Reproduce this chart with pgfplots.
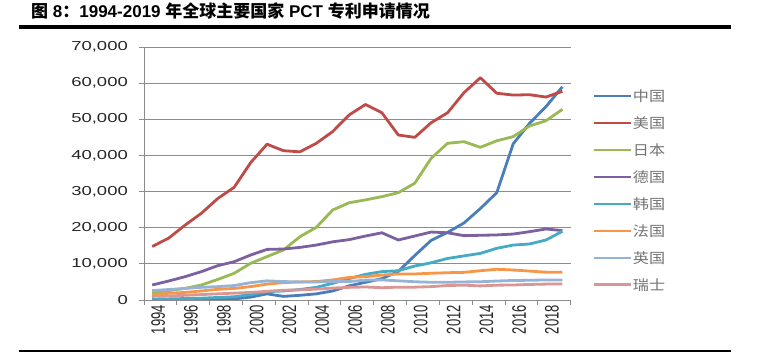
\documentclass[border=0pt]{standalone}
\usepackage{fontspec}
\setmainfont{Liberation Sans}
\newfontfamily\cjk{Noto Sans CJK SC}
\usepackage{pgfplots}
\usepackage{pgfplotstable}
\pgfplotsset{compat=1.18}
\definecolor{cCN}{HTML}{4A7EBB}
\definecolor{cUS}{HTML}{BE4B48}
\definecolor{cJP}{HTML}{98B954}
\definecolor{cDE}{HTML}{7D60A0}
\definecolor{cKR}{HTML}{46AAC5}
\definecolor{cFR}{HTML}{F79646}
\definecolor{cUK}{HTML}{95B3D7}
\definecolor{cCH}{HTML}{D99694}
\definecolor{gridc}{HTML}{8C8C8C}
\pgfplotstableread{
x CN US JP DE KR FR UK CH
0 100 14800 2000 4150 200 1500 2600 1000
1 100 17100 2600 5250 300 1850 2900 1100
2 150 20700 3200 6450 400 2100 3200 1300
3 200 24000 4150 7850 500 2500 3500 1500
4 300 28100 5700 9500 700 2950 3700 1700
5 300 31200 7400 10600 900 3200 4000 1900
6 800 38000 10150 12450 1500 3700 4800 2100
7 1700 43100 12000 14000 2300 4400 5300 2400
8 1000 41300 13850 14100 2500 4800 5100 2700
9 1300 41000 17500 14550 2900 5000 5000 2800
10 1700 43350 20100 15200 3500 5100 5000 3000
11 2500 46600 24900 16100 4600 5550 5100 3300
12 3900 51200 26900 16700 5900 6250 5100 3500
13 4900 54100 27700 17700 7100 6450 5500 3600
14 5900 51800 28600 18600 7850 6900 5550 3400
15 7900 45650 29700 16600 8100 7200 5300 3550
16 12300 45000 32300 17700 9400 7200 5050 3550
17 16500 49050 39200 18800 10300 7400 4900 3700
18 18700 51800 43350 18600 11500 7550 4900 4000
19 21300 57350 43800 17800 12200 7650 5000 4100
20 25300 61500 42250 17900 12900 8100 5050 3900
21 29700 57200 44050 18000 14300 8500 5250 4100
22 43200 56700 45200 18250 15200 8300 5400 4150
23 48900 56800 48150 18900 15500 8000 5450 4300
24 53500 56150 49600 19650 16600 7700 5550 4400
25 59000 57750 52750 19200 19000 7650 5550 4400
}\data
\begin{document}
\begin{tikzpicture}
\useasboundingbox (0pt,0pt) rectangle (757pt,352pt);
\node[anchor=base west, inner sep=0pt] at (31pt,334.5pt) {\fontsize{17}{19}\selectfont\bfseries{\cjk 图} 8{\cjk ：}1994-2019 {\cjk 年全球主要国家} PCT {\cjk 专利申请情况}};
\draw[line width=3.3pt] (19pt,325pt) -- (731pt,325pt);
\draw[line width=2pt] (19pt,1pt) -- (731pt,1pt);
\begin{axis}[
  at={(144pt,52pt)}, anchor=south west,
  scale only axis, width=426.6pt, height=253pt,
  xmin=-0.5, xmax=25.5, ymin=0, ymax=70000,
  axis x line*=bottom, axis y line*=left,
  axis line style={draw=gridc, line width=0.8pt},
  ytick={0,10000,...,70000},
  ymajorgrids, major grid style={draw=gridc, line width=0.8pt},
  scaled y ticks=false,
  tick align=outside, major tick length=5pt, minor tick length=5pt,
  tick style={draw=gridc, line width=0.8pt},
  xtick={0,2,...,24},
  major x tick style={draw=none},
  minor xtick={-0.5,1.5,...,25.5},
  yticklabel={\scalebox{1.42}[1]{\pgfmathprintnumber[fixed,precision=0,1000 sep={,},assume math mode=true]{\tick}}},
  yticklabel style={font=\fontsize{13}{15}\selectfont, text=black!85, inner sep=0pt, xshift=-11pt},
  xticklabel={\scalebox{1}[1.5]{\pgfmathtruncatemacro\yr{1994+\tick}\yr}},
  xticklabel style={font=\fontsize{13}{15}\selectfont, text=black!85, rotate=90, anchor=east, inner sep=0pt, yshift=-6pt},
  every axis plot/.append style={line width=2.8pt, line join=round, no markers},
  legend style={at={(1.043,0.845)}, anchor=north west, draw=none, fill=none,
    font=\fontsize{14}{16}\selectfont, row sep=11.7pt,
    nodes={inner sep=1pt, anchor=west, text=black!55}},
  legend cell align=left,
  legend image code/.code={\draw[#1] (0pt,0pt) -- (37pt,0pt);},
]
\addplot[color=cCN] table[x=x,y=CN]{\data};
\addlegendentry{\scalebox{1.15}[1]{\cjk 中国}}
\addplot[color=cUS] table[x=x,y=US]{\data};
\addlegendentry{\scalebox{1.15}[1]{\cjk 美国}}
\addplot[color=cJP] table[x=x,y=JP]{\data};
\addlegendentry{\scalebox{1.15}[1]{\cjk 日本}}
\addplot[color=cDE] table[x=x,y=DE]{\data};
\addlegendentry{\scalebox{1.15}[1]{\cjk 德国}}
\addplot[color=cKR] table[x=x,y=KR]{\data};
\addlegendentry{\scalebox{1.15}[1]{\cjk 韩国}}
\addplot[color=cFR] table[x=x,y=FR]{\data};
\addlegendentry{\scalebox{1.15}[1]{\cjk 法国}}
\addplot[color=cUK] table[x=x,y=UK]{\data};
\addlegendentry{\scalebox{1.15}[1]{\cjk 英国}}
\addplot[color=cCH] table[x=x,y=CH]{\data};
\addlegendentry{\scalebox{1.15}[1]{\cjk 瑞士}}
\end{axis}
\end{tikzpicture}
\end{document}
